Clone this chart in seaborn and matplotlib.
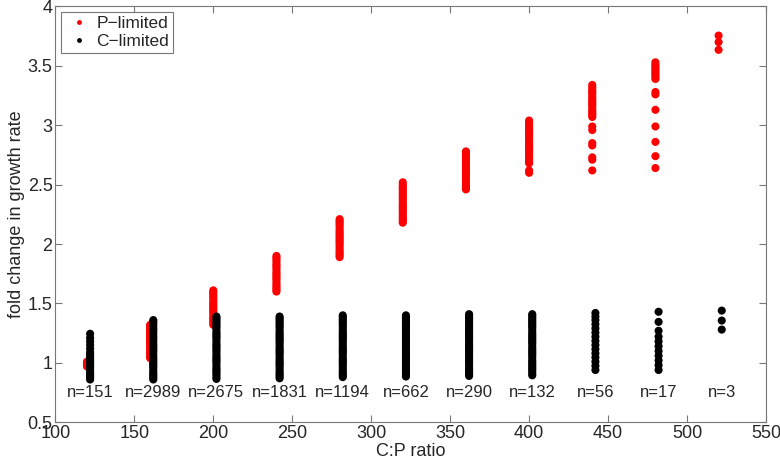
import matplotlib
matplotlib.use("Agg")
import matplotlib.pyplot as plt
from matplotlib.ticker import FuncFormatter
import pandas as pd
import seaborn as sns

# C:P ratio groups and number of runs in each
ratios = [120, 160, 200, 240, 280, 320, 360, 400, 440, 480, 520]
counts = [151, 2989, 2675, 1831, 1194, 662, 290, 132, 56, 17, 3]

p_limited = [
    [0.97, 0.985, 1.00, 1.01],
    [1.04, 1.055, 1.07, 1.085, 1.10, 1.12, 1.14, 1.155, 1.17, 1.185, 1.20, 1.215, 1.23,
     1.245, 1.26, 1.275, 1.29, 1.305, 1.32],
    [1.32, 1.335, 1.35, 1.365, 1.38, 1.40, 1.42, 1.435, 1.45, 1.465, 1.48, 1.495, 1.51,
     1.53, 1.55, 1.565, 1.58, 1.595, 1.61],
    [1.60, 1.615, 1.63, 1.645, 1.66, 1.68, 1.70, 1.715, 1.73, 1.745, 1.76, 1.78, 1.80,
     1.815, 1.83, 1.85, 1.87, 1.885, 1.90],
    [1.89, 1.905, 1.92, 1.935, 1.95, 1.97, 1.99, 2.005, 2.02, 2.035, 2.05, 2.065, 2.08,
     2.095, 2.11, 2.13, 2.15, 2.165, 2.18, 2.195, 2.21],
    [2.18, 2.195, 2.21, 2.225, 2.24, 2.26, 2.28, 2.295, 2.31, 2.325, 2.34, 2.36, 2.38,
     2.395, 2.41, 2.43, 2.45, 2.465, 2.48, 2.50, 2.52],
    [2.46, 2.475, 2.49, 2.505, 2.52, 2.54, 2.56, 2.575, 2.59, 2.605, 2.62, 2.635, 2.65,
     2.67, 2.69, 2.705, 2.72, 2.735, 2.75, 2.765, 2.78],
    [2.60, 2.62, 2.68, 2.695, 2.71, 2.725, 2.74, 2.76, 2.78, 2.795, 2.81, 2.825, 2.84,
     2.86, 2.88, 2.895, 2.91, 2.925, 2.94, 2.955, 2.97, 2.99, 3.01, 3.025, 3.04],
    [2.62, 2.71, 2.73, 2.83, 2.85, 2.96, 2.99, 3.07, 3.085, 3.10, 3.115, 3.13, 3.15, 3.17,
     3.185, 3.20, 3.215, 3.23, 3.25, 3.27, 3.285, 3.30, 3.32, 3.34],
    [2.64, 2.74, 2.86, 2.99, 3.13, 3.26, 3.28, 3.39, 3.405, 3.42, 3.435, 3.45, 3.465, 3.48,
     3.495, 3.51, 3.53],
    [3.635, 3.70, 3.755],
]
c_limited = [
    [0.86, 0.875, 0.89, 0.905, 0.92, 0.94, 0.96, 0.975, 0.99, 1.005, 1.02, 1.035, 1.05,
     1.07, 1.09, 1.12, 1.15, 1.18, 1.21, 1.245],
    [0.86, 0.875, 0.89, 0.905, 0.92, 0.94, 0.96, 0.975, 0.99, 1.005, 1.02, 1.035, 1.05,
     1.07, 1.09, 1.105, 1.12, 1.135, 1.15, 1.17, 1.19, 1.205, 1.22, 1.24, 1.26, 1.275,
     1.29, 1.31, 1.33, 1.345, 1.36],
    [0.865, 0.88, 0.90, 0.915, 0.93, 0.945, 0.96, 0.98, 1.00, 1.015, 1.03, 1.045, 1.06,
     1.08, 1.10, 1.115, 1.13, 1.145, 1.16, 1.18, 1.20, 1.215, 1.23, 1.245, 1.26, 1.28,
     1.30, 1.315, 1.33, 1.345, 1.36, 1.375, 1.39],
    [0.87, 0.885, 0.90, 0.915, 0.93, 0.95, 0.97, 0.985, 1.00, 1.015, 1.03, 1.05, 1.07,
     1.085, 1.10, 1.115, 1.13, 1.15, 1.17, 1.185, 1.20, 1.215, 1.23, 1.245, 1.26, 1.28,
     1.30, 1.315, 1.33, 1.345, 1.36, 1.375, 1.39],
    [0.88, 0.895, 0.91, 0.925, 0.94, 0.96, 0.98, 0.995, 1.01, 1.025, 1.04, 1.06, 1.08,
     1.095, 1.11, 1.125, 1.14, 1.16, 1.18, 1.195, 1.21, 1.225, 1.24, 1.255, 1.27, 1.29,
     1.31, 1.325, 1.34, 1.355, 1.37, 1.385, 1.40],
    [0.885, 0.90, 0.92, 0.935, 0.95, 0.965, 0.98, 1.00, 1.02, 1.035, 1.05, 1.065, 1.08,
     1.10, 1.12, 1.135, 1.15, 1.165, 1.18, 1.195, 1.21, 1.23, 1.25, 1.265, 1.28, 1.295,
     1.31, 1.325, 1.34, 1.355, 1.37, 1.385, 1.40],
    [0.89, 0.905, 0.92, 0.935, 0.95, 0.97, 0.99, 1.005, 1.02, 1.035, 1.05, 1.07, 1.09,
     1.105, 1.12, 1.135, 1.15, 1.17, 1.19, 1.205, 1.22, 1.235, 1.25, 1.265, 1.28, 1.30,
     1.32, 1.335, 1.35, 1.365, 1.38, 1.395, 1.41],
    [0.895, 0.91, 0.93, 0.945, 0.96, 0.975, 0.99, 1.005, 1.02, 1.04, 1.06, 1.075, 1.09,
     1.105, 1.12, 1.14, 1.16, 1.175, 1.19, 1.205, 1.22, 1.235, 1.25, 1.27, 1.29, 1.305,
     1.32, 1.335, 1.35, 1.365, 1.38, 1.395, 1.41],
    [0.94, 0.975, 1.01, 1.045, 1.08, 1.115, 1.15, 1.185, 1.22, 1.255, 1.29, 1.325, 1.36,
     1.39, 1.42],
    [0.94, 0.98, 1.02, 1.06, 1.10, 1.14, 1.18, 1.22, 1.27, 1.345, 1.43],
    [1.28, 1.356, 1.44],
]

P_LABEL = "P\u2212limited"
C_LABEL = "C\u2212limited"

rows = []
for label, groups, shift in [(P_LABEL, p_limited, 0), (C_LABEL, c_limited, 2)]:
    for r, vals in zip(ratios, groups):
        for v in vals:
            rows.append({"ratio": r + shift, "fold": v, "limit": label})
df = pd.DataFrame(rows)

sns.set_style("ticks")
plt.rcParams["font.family"] = ["Liberation Sans", "DejaVu Sans"]
plt.rcParams["xtick.direction"] = "in"
plt.rcParams["ytick.direction"] = "in"

fig = plt.figure(figsize=(7.8, 4.63), dpi=100)
ax = fig.add_axes([0.071, 0.088, 0.911, 0.898])

sns.scatterplot(data=df, x="ratio", y="fold", hue="limit",
                palette={P_LABEL: "#ff0000", C_LABEL: "#000000"},
                s=34, linewidth=0, ax=ax)

for r, n in zip(ratios, counts):
    ax.text(r + 2, 0.75, f"n={n}", ha="center", va="center", fontsize=12)

ax.set_xlim(100, 550)
ax.set_ylim(0.5, 4)
ax.set_xticks(range(100, 551, 50))
ax.set_yticks([0.5, 1, 1.5, 2, 2.5, 3, 3.5, 4])
ax.yaxis.set_major_formatter(FuncFormatter(lambda v, _: f"{v:g}"))
ax.tick_params(top=True, right=True, length=5, width=0.8, color="#777777",
               labelsize=13, pad=2)
for sp in ax.spines.values():
    sp.set_color("#777777")
    sp.set_linewidth(0.8)
ax.set_xlabel("C:P ratio", fontsize=13, labelpad=1)
ax.set_ylabel("fold change in growth rate", fontsize=13, labelpad=2)

handles, labels = ax.get_legend_handles_labels()
leg = ax.legend(handles, labels, loc="upper left", fontsize=12.5, frameon=True,
                fancybox=False, edgecolor="#555555", markerscale=0.6,
                borderaxespad=0.3, handletextpad=0.2, handlelength=1.6,
                borderpad=0.25, labelspacing=0.15)
leg.get_frame().set_linewidth(0.8)

plt.savefig("out.png", dpi=100)
plt.close(fig)
